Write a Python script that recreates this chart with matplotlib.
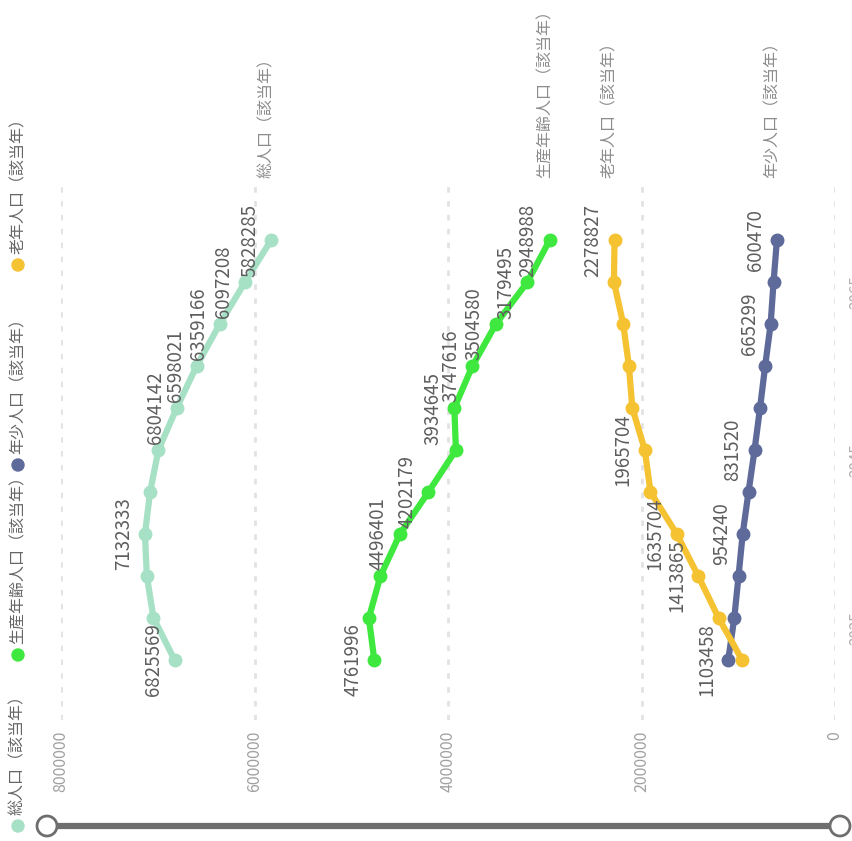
import matplotlib.pyplot as plt
from matplotlib.patches import Circle
from matplotlib.lines import Line2D

plt.rcParams['font.family'] = ['Noto Sans CJK JP', 'DejaVu Sans']

# data (points run from the bottom to the top)
years = ['2020', '2025', '2030', '2035', '2040', '2045',
         '2050', '2055', '2060', '2065', '2070']
year_ticks = [1, 5, 9]

names = ['総人口（該当年）', '生産年齢人口（該当年）',
         '年少人口（該当年）', '老年人口（該当年）']
total = [6825569, 7044000, 7113000, 7132333, 7079000, 6993000,
         6804142, 6598021, 6359166, 6097208, 5828285]
working = [4761996, 4818000, 4698000, 4496401, 4202179, 3918000,
           3934645, 3747616, 3504580, 3179495, 2948988]
young = [1103458, 1041000, 997000, 954240, 894000, 831520,
         775000, 722000, 665299, 635000, 600470]
elderly = [960115, 1203000, 1413865, 1635704, 1907000, 1965704,
           2095000, 2130000, 2189000, 2285000, 2278827]
series = [total, working, young, elderly]

# which points carry a value label
label_idx = [[0, 3, 6, 7, 8, 9, 10],
             [0, 3, 4, 6, 7, 8, 9, 10],
             [0, 3, 5, 8, 10],
             [2, 3, 5, 10]]

value_ticks = [8000000, 6000000, 4000000, 2000000, 0]

colors = ['#a6e0c5', '#3fe83f', '#5e6a9a', '#f5c232']

W, H = 852, 841
fig = plt.figure(figsize=(W / 100, H / 100), dpi=100)
fig.patch.set_facecolor('white')

ax = fig.add_axes([61 / W, 1 - 720 / H, (835 - 61) / W, 540 / H])
ax.set_facecolor('none')

pos = list(range(len(years)))
for vals, col, idx in zip(series, colors, label_idx):
    ax.plot(vals, pos, color=col, lw=4.5, marker='o', ms=9,
            solid_capstyle='round', zorder=3, clip_on=False)
    for i in idx:
        ax.annotate(str(vals[i]), (vals[i], pos[i]), xytext=(-11, 0),
                    textcoords='offset pixels', rotation=90,
                    rotation_mode='anchor', ha='center', va='bottom',
                    fontsize=13.5, color='#5e5e5e', zorder=5)

# series names at the line ends
for vals, name in zip(series, names):
    ax.annotate(name, (vals[-1], pos[-1]), xytext=(-5, 62),
                textcoords='offset pixels', rotation=90,
                rotation_mode='anchor', ha='left', va='center',
                fontsize=11.5, color='#8c8c8c', annotation_clip=False)

ax.set_xlim(8000000, 0)
ax.set_ylim(-1.43, 11.43)
ax.set_xticks(value_ticks)
ax.set_xticklabels([str(v) for v in value_ticks], rotation=90,
                   fontsize=11.5, color='#a0a0a0')
ax.tick_params(axis='x', length=0, pad=8)
ax.grid(axis='x', color='#e2e2e2', lw=2, linestyle=(0, (2, 3)))
ax.set_axisbelow(True)

# year labels sit just past the right edge, as in the source
ax.yaxis.tick_right()
ax.set_yticks(year_ticks)
ax.set_yticklabels([years[i] for i in year_ticks], rotation=90,
                   fontsize=11, color='#b0b0b0')
ax.tick_params(axis='y', length=0, pad=10)
for s in ax.spines.values():
    s.set_visible(False)

# overlay in pixel coordinates for the legend and the slider
ov = fig.add_axes([0, 0, 1, 1], zorder=-1)
ov.set_xlim(0, W)
ov.set_ylim(H, 0)
ov.axis('off')

legend_y = [826, 655, 465, 265]
for name, col, ly in zip(names, colors, legend_y):
    ov.add_patch(Circle((18, ly), 6, color=col))
    ov.text(18, ly - 11, name, rotation=90, rotation_mode='anchor',
            ha='left', va='center', fontsize=11.5, color='#666666')

ov.add_line(Line2D([47, 840], [826, 826], color='#6e6e6e', lw=4.5))
for cx in [47, 840]:
    ov.add_patch(Circle((cx, 826), 10, facecolor='white',
                        edgecolor='#6e6e6e', lw=2, zorder=3))

fig.savefig('out.png', dpi=100)
